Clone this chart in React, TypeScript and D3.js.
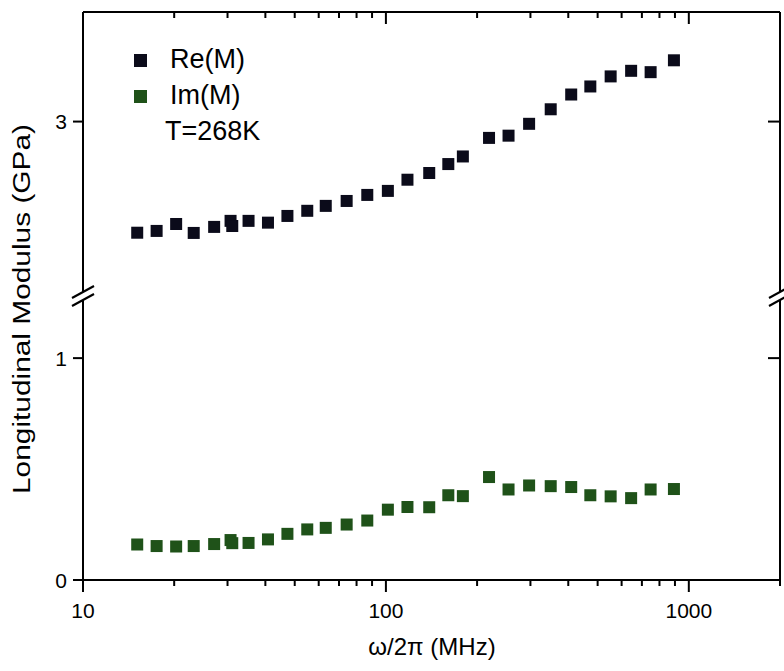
import React from "react";
import * as d3 from "d3";

const freq = [15.1, 17.5, 20.3, 23.2, 27.1, 30.7, 31.1, 35.2, 40.8, 47.3, 55.0, 63.3, 74.2, 86.8, 101.5, 117.8, 139, 160.7, 179.5, 219, 254, 297, 350, 409, 473, 552, 645, 748, 893];
const reM = [2.503, 2.511, 2.542, 2.502, 2.529, 2.556, 2.533, 2.556, 2.548, 2.578, 2.601, 2.623, 2.645, 2.672, 2.69, 2.74, 2.77, 2.81, 2.844, 2.927, 2.937, 2.99, 3.055, 3.121, 3.157, 3.202, 3.227, 3.221, 3.274];
const imM = [0.16, 0.153, 0.151, 0.153, 0.162, 0.18, 0.166, 0.167, 0.183, 0.208, 0.228, 0.235, 0.25, 0.268, 0.317, 0.329, 0.328, 0.382, 0.378, 0.464, 0.408, 0.426, 0.423, 0.419, 0.382, 0.377, 0.369, 0.408, 0.41];

const xMajor = [10, 100, 1000];
const xMinor = [20, 30, 40, 50, 60, 70, 80, 90, 200, 300, 400, 500, 600, 700, 800, 900, 2000];
const yLowTicks = [0, 1];
const yHighTicks = [3];
const legendLabels = ["Re(M)", "Im(M)"];
const note = "T=268K";

const L = 83, R = 780, T = 12, B = 580, BRK = 296;

export default function App() {
  const x = d3.scaleLog().domain([10, 2000]).range([L, R]);
  const yLow = d3.scaleLinear().domain([0, 1.28]).range([B, BRK]);
  const yHigh = d3.scaleLinear().domain([2.22, 3.49]).range([BRK, T]);
  const ms = 12;
  const reColor = "#0b0b1a";
  const imColor = "#1f5219";
  const font = "Arial, 'Liberation Sans', sans-serif";
  const sw = 2;

  const slashes = (cx: number) => (
    <g>
      <rect x={cx - 3} y={BRK - 4} width={6} height={8} fill="#fff" />
      <line x1={cx - 11} y1={BRK - 4 + 6} x2={cx + 11} y2={BRK - 4 - 6} stroke="#000" strokeWidth={2.2} />
      <line x1={cx - 11} y1={BRK + 4 + 6} x2={cx + 11} y2={BRK + 4 - 6} stroke="#000" strokeWidth={2.2} />
    </g>
  );

  return (
    <svg width={784} height={671} style={{ position: "absolute", left: 0, top: 0, background: "#fff" }} fontFamily={font}>
      <rect x={0} y={0} width={784} height={671} fill="#fff" />
      {/* frame */}
      <line x1={L} y1={T} x2={R} y2={T} stroke="#000" strokeWidth={sw} />
      <line x1={L} y1={B} x2={R} y2={B} stroke="#000" strokeWidth={sw} />
      <line x1={L} y1={T} x2={L} y2={B} stroke="#000" strokeWidth={sw} />
      <line x1={R} y1={T} x2={R} y2={B} stroke="#000" strokeWidth={sw} />
      {/* x ticks */}
      {xMajor.map((v) => (
        <g key={"xM" + v}>
          <line x1={x(v)} x2={x(v)} y1={B} y2={B + 12} stroke="#000" strokeWidth={sw} />
          <line x1={x(v)} x2={x(v)} y1={T} y2={T + 12} stroke="#000" strokeWidth={sw} />
          <text x={x(v)} y={618} textAnchor="middle" fontSize={21}>{v}</text>
        </g>
      ))}
      {xMinor.map((v) => (
        <g key={"xm" + v}>
          <line x1={x(v)} x2={x(v)} y1={B} y2={B + 6} stroke="#000" strokeWidth={sw} />
          <line x1={x(v)} x2={x(v)} y1={T} y2={T + 6} stroke="#000" strokeWidth={sw} />
        </g>
      ))}
      {/* y ticks */}
      {yLowTicks.map((v) => (
        <g key={"yl" + v}>
          <line x1={L - 10} x2={L} y1={yLow(v)} y2={yLow(v)} stroke="#000" strokeWidth={sw} />
          <line x1={R - 12} x2={R} y1={yLow(v)} y2={yLow(v)} stroke="#000" strokeWidth={sw} />
          <text x={67} y={yLow(v) + 7.5} textAnchor="end" fontSize={21}>{v}</text>
        </g>
      ))}
      {yHighTicks.map((v) => (
        <g key={"yh" + v}>
          <line x1={L - 10} x2={L} y1={yHigh(v)} y2={yHigh(v)} stroke="#000" strokeWidth={sw} />
          <line x1={R - 12} x2={R} y1={yHigh(v)} y2={yHigh(v)} stroke="#000" strokeWidth={sw} />
          <text x={67} y={yHigh(v) + 7.5} textAnchor="end" fontSize={21}>{v}</text>
        </g>
      ))}
      {slashes(L)}
      {slashes(R)}
      {/* data */}
      {freq.map((f, i) => (
        <rect key={"re" + i} x={x(f) - ms / 2} y={yHigh(reM[i]) - ms / 2} width={ms} height={ms} fill={reColor} />
      ))}
      {freq.map((f, i) => (
        <rect key={"im" + i} x={x(f) - ms / 2} y={yLow(imM[i]) - ms / 2} width={ms} height={ms} fill={imColor} />
      ))}
      {/* legend */}
      <rect x={134} y={54} width={13} height={13} fill={reColor} />
      <text x={170} y={68} fontSize={27}>{legendLabels[0]}</text>
      <rect x={134} y={90} width={13} height={13} fill={imColor} />
      <text x={170} y={104} fontSize={27}>{legendLabels[1]}</text>
      <text x={165} y={140} fontSize={27}>{note}</text>
      {/* axis titles */}
      <text x={432} y={655} textAnchor="middle" fontSize={24}>ω/2π (MHz)</text>
      <text transform="translate(30,309) rotate(-90)" textAnchor="middle" fontSize={23} textLength={370} lengthAdjust="spacingAndGlyphs">Longitudinal Modulus (GPa)</text>
    </svg>
  );
}
